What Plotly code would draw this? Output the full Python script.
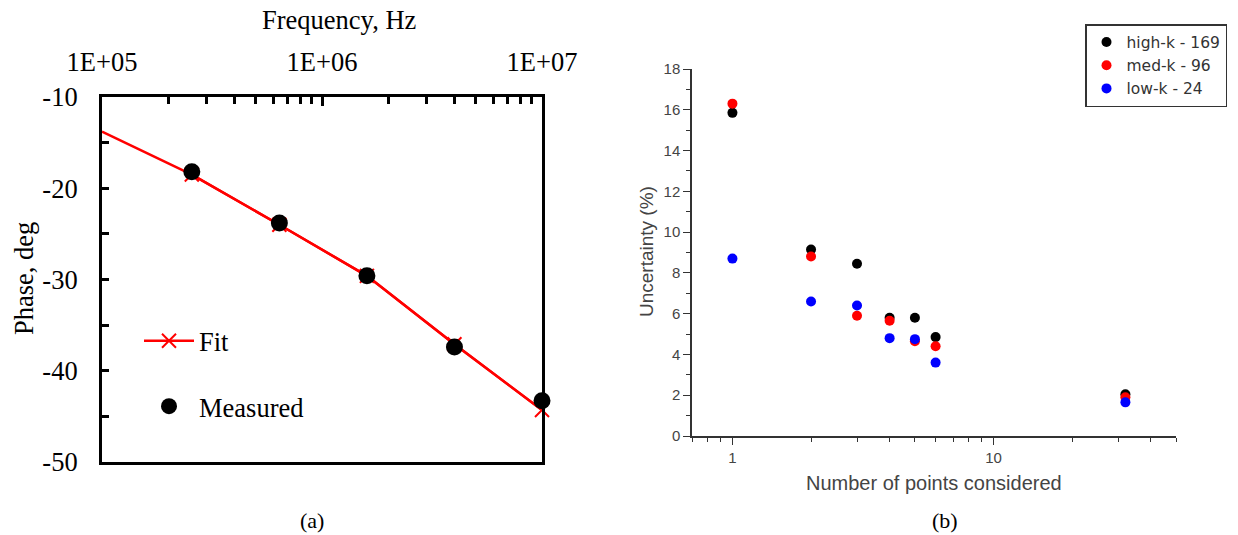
import plotly.graph_objects as go
import numpy as np

# ---- Panel (a) data ----
fit_freq = [1e5, 2.56e5, 6.4e5, 1.6e6, 4.0e6, 1.0e7]
fit_phase = [-13.8, -18.5, -24.0, -29.6, -37.1, -44.3]
meas_freq = [2.56e5, 6.4e5, 1.6e6, 4.0e6, 1.0e7]
meas_phase = [-18.2, -23.8, -29.6, -37.4, -43.3]
a_xtick_vals = [1e5, 1e6, 1e7]
a_xtick_text = ["1E+05", "1E+06", "1E+07"]
a_ytick_vals = [-10, -20, -30, -40, -50]
a_ytick_text = ["-10", "-20", "-30", "-40", "-50"]

# ---- Panel (b) data ----
n_points = [1, 2, 3, 4, 5, 6, 32]
high_k = [15.85, 9.15, 8.45, 5.8, 5.8, 4.85, 2.05]
med_k = [16.3, 8.8, 5.9, 5.65, 4.65, 4.4, 1.9]
low_k = [8.7, 6.6, 6.4, 4.8, 4.75, 3.6, 1.65]
b_names = ["high-k - 169", "med-k - 96", "low-k - 24"]
b_xtick_vals = [1, 10]
b_xtick_text = ["1", "10"]

W, H = 1238, 535
def px(x): return x / W
def py(y): return 1 - y / H

serif = "Liberation Serif, Times New Roman, serif"
sans = "Liberation Sans, Arial, sans-serif"
wide = "DejaVu Sans, Liberation Sans, sans-serif"
SF = 26.5

fig = go.Figure()

# Panel (a): full fit line (no markers) + Fit with markers (legend)
fig.add_trace(go.Scatter(
    x=fit_freq, y=fit_phase, mode="lines", showlegend=False,
    line=dict(color="#ff0000", width=2.5), hoverinfo="skip",
    xaxis="x", yaxis="y"))
fig.add_trace(go.Scatter(
    x=fit_freq[1:], y=fit_phase[1:], mode="lines+markers", name="Fit",
    line=dict(color="#ff0000", width=2.5),
    marker=dict(symbol="x-thin", size=14,
                line=dict(color="#ff0000", width=2), color="#ff0000"),
    xaxis="x", yaxis="y", legend="legend", legendgroup="fit",
    cliponaxis=False))
fig.add_trace(go.Scatter(
    x=meas_freq, y=meas_phase, mode="markers", name="Measured",
    marker=dict(symbol="circle", size=17, color="black"),
    xaxis="x", yaxis="y", legend="legend", legendgroup="meas",
    cliponaxis=False))

# Panel (b)
for vals, name, col in [(high_k, b_names[0], "black"),
                        (med_k, b_names[1], "#ff0000"),
                        (low_k, b_names[2], "#0000ff")]:
    fig.add_trace(go.Scatter(
        x=n_points, y=vals, mode="markers", name=name,
        marker=dict(symbol="circle", size=10, color=col),
        xaxis="x2", yaxis="y2", legend="legend2"))

a_minor = [m * 10 ** e for e in (5, 6) for m in range(2, 10)]
b_minor = [0.7, 0.8, 0.9] + list(range(2, 10)) + [20, 30, 40, 50]

def ann(text, x, y, font, angle=0):
    return dict(text=text, x=px(x), y=py(y), xref="paper", yref="paper",
                xanchor="center", yanchor="middle", textangle=angle,
                showarrow=False, font=font)

fig.update_layout(
    width=W, height=H,
    margin=dict(l=0, r=0, t=0, b=0, autoexpand=False),
    paper_bgcolor="white", plot_bgcolor="white",
    showlegend=True,
    xaxis=dict(
        type="log", range=[5, 7], side="top",
        domain=[px(102), px(542)],
        tickmode="array", tickvals=a_xtick_vals, ticktext=a_xtick_text,
        ticks="inside", ticklen=9, tickwidth=2.5, tickcolor="black",
        minor=dict(tickmode="array", tickvals=a_minor, ticks="inside",
                   ticklen=7, tickwidth=2.5, tickcolor="black", showgrid=False),
        ticklabelstandoff=12,
        showline=True, linewidth=3, linecolor="black", mirror=True,
        showgrid=False, zeroline=False, automargin=False,
        tickfont=dict(family=serif, size=SF, color="black"),
        anchor="y",
    ),
    yaxis=dict(
        range=[-50, -10],
        domain=[py(462), py(97)],
        tickmode="array", tickvals=a_ytick_vals, ticktext=a_ytick_text,
        ticks="inside", ticklen=7, tickwidth=2.5, tickcolor="black",
        minor=dict(dtick=5, ticks="inside", ticklen=7, tickwidth=2.5,
                   tickcolor="black", showgrid=False),
        ticklabelstandoff=16,
        showline=True, linewidth=3, linecolor="black", mirror=True,
        showgrid=False, zeroline=False, automargin=False,
        tickfont=dict(family=serif, size=SF, color="black"),
        anchor="x",
    ),
    xaxis2=dict(
        type="log", range=[np.log10(0.7), np.log10(50)],
        domain=[px(692), px(1176)],
        tickmode="array", tickvals=b_xtick_vals, ticktext=b_xtick_text,
        ticks="outside", ticklen=7, tickwidth=1.3, tickcolor="#333",
        minor=dict(tickmode="array", tickvals=b_minor, ticks="outside",
                   ticklen=4, tickwidth=1.3, tickcolor="#333", showgrid=False),
        showline=True, linewidth=1.5, linecolor="#333",
        showgrid=False, zeroline=False, automargin=False,
        tickfont=dict(family=sans, size=15, color="#444"),
        anchor="y2",
    ),
    yaxis2=dict(
        range=[0, 18], dtick=2,
        domain=[py(436), py(69)],
        ticks="outside", ticklen=7, tickwidth=1.3, tickcolor="#333",
        minor=dict(dtick=1, ticks="outside", ticklen=4, tickwidth=1.3,
                   tickcolor="#333", showgrid=False),
        showline=True, linewidth=1.5, linecolor="#333",
        showgrid=False, zeroline=False, automargin=False,
        tickfont=dict(family=sans, size=15, color="#444"),
        anchor="x2",
    ),
    legend=dict(
        x=px(139), y=py(317), xanchor="left", yanchor="top",
        bgcolor="rgba(0,0,0,0)", borderwidth=0,
        font=dict(family=serif, size=SF, color="black"),
        traceorder="grouped", tracegroupgap=28, itemwidth=50,
    ),
    legend2=dict(
        x=px(1085), y=py(24), xanchor="left", yanchor="top",
        bgcolor="white", bordercolor="#333", borderwidth=1.5,
        font=dict(family=wide, size=15.5, color="#333"),
        tracegroupgap=0,
    ),
    annotations=[
        ann("Frequency, Hz", 339, 20, dict(family=serif, size=SF, color="black")),
        ann("Phase, deg", 24, 279, dict(family=serif, size=SF, color="black"), -90),
        ann("Number of points considered", 934, 483, dict(family=sans, size=20, color="#444")),
        ann("Uncertainty (%)", 646, 252, dict(family=sans, size=19, color="#444"), -90),
        ann("(a)", 312, 520, dict(family=serif, size=22, color="black")),
        ann("(b)", 945, 520, dict(family=serif, size=22, color="black")),
    ],
)

fig.write_html("out.html")
